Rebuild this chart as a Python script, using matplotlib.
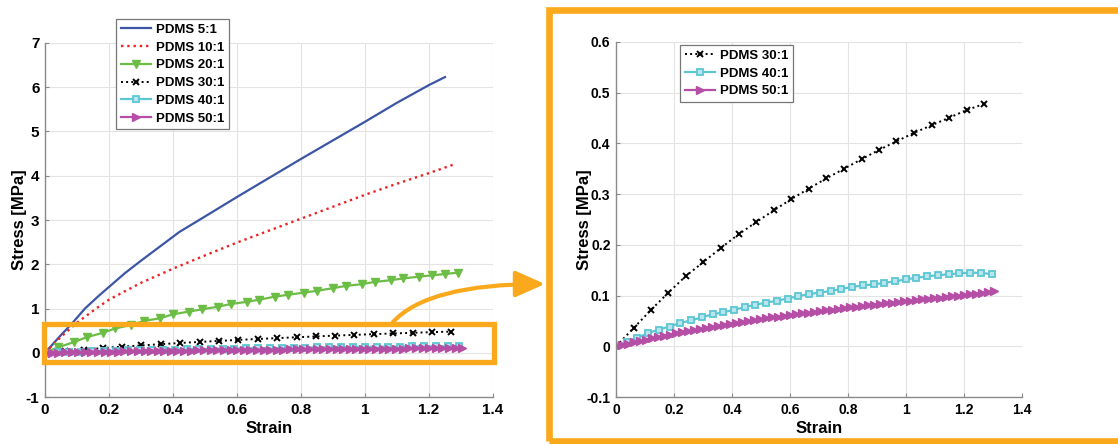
import matplotlib
matplotlib.use("Agg")
import matplotlib.pyplot as plt
from matplotlib.patches import Rectangle, FancyArrowPatch
from matplotlib.path import Path

plt.rcParams['font.family'] = ['Liberation Sans', 'DejaVu Sans']
plt.rcParams['font.weight'] = 'bold'
plt.rcParams['axes.unicode_minus'] = False

# ---- data ----
strain_5 = [0, 0.05, 0.083, 0.125, 0.17, 0.25, 0.30, 0.42, 0.50, 0.60, 0.70, 0.80, 0.90, 1.00, 1.10, 1.20, 1.25]
stress_5 = [0, 0.40, 0.65, 1.00, 1.30, 1.80, 2.08, 2.73, 3.08, 3.52, 3.95, 4.38, 4.80, 5.22, 5.65, 6.05, 6.23]

strain_10 = [0, 0.05, 0.10, 0.16, 0.20, 0.30, 0.40, 0.50, 0.60, 0.70, 0.80, 0.90, 1.00, 1.10, 1.20, 1.28]
stress_10 = [0, 0.36, 0.68, 1.00, 1.20, 1.58, 1.90, 2.20, 2.49, 2.76, 3.03, 3.30, 3.57, 3.82, 4.06, 4.26]

strain_20 = [0, 0.04, 0.09, 0.13, 0.18, 0.22, 0.27, 0.31, 0.36, 0.40, 0.45, 0.49, 0.54, 0.58, 0.63,
             0.67, 0.72, 0.76, 0.81, 0.85, 0.90, 0.94, 0.99, 1.03, 1.08, 1.12, 1.17, 1.21, 1.25, 1.29]
stress_20 = [0, 0.12, 0.24, 0.35, 0.45, 0.55, 0.63, 0.72, 0.78, 0.87, 0.93, 0.98, 1.04, 1.10, 1.15,
             1.20, 1.27, 1.31, 1.36, 1.40, 1.46, 1.51, 1.55, 1.60, 1.64, 1.68, 1.72, 1.75, 1.78, 1.81]

strain_30 = [0, 0.061, 0.121, 0.181, 0.240, 0.301, 0.362, 0.423, 0.484, 0.544, 0.604,
             0.665, 0.725, 0.786, 0.847, 0.906, 0.967, 1.028, 1.089, 1.150, 1.210, 1.270]
stress_30 = [0, 0.036, 0.072, 0.106, 0.138, 0.166, 0.194, 0.221, 0.245, 0.268, 0.290,
             0.311, 0.331, 0.350, 0.369, 0.387, 0.404, 0.421, 0.436, 0.451, 0.466, 0.478]

strain_40 = [0, 0.037, 0.074, 0.111, 0.148, 0.185, 0.222, 0.259, 0.296, 0.333, 0.370, 0.407,
             0.444, 0.481, 0.518, 0.555, 0.592, 0.629, 0.666, 0.703, 0.740, 0.777, 0.814, 0.851,
             0.888, 0.925, 0.962, 0.999, 1.036, 1.073, 1.110, 1.147, 1.184, 1.221, 1.258, 1.295]
stress_40 = [0, 0.009, 0.017, 0.026, 0.033, 0.039, 0.046, 0.051, 0.057, 0.063, 0.067, 0.072,
             0.077, 0.082, 0.086, 0.090, 0.094, 0.099, 0.103, 0.106, 0.109, 0.113, 0.117, 0.120,
             0.122, 0.125, 0.128, 0.132, 0.135, 0.138, 0.140, 0.142, 0.144, 0.145, 0.145, 0.142]

strain_50 = [0, 0.021, 0.041, 0.062, 0.083, 0.104, 0.124, 0.145, 0.166, 0.186, 0.207, 0.228,
             0.248, 0.269, 0.290, 0.311, 0.331, 0.352, 0.373, 0.393, 0.414, 0.435, 0.455, 0.476,
             0.497, 0.518, 0.538, 0.559, 0.580, 0.600, 0.621, 0.642, 0.662, 0.683, 0.704, 0.725,
             0.745, 0.766, 0.787, 0.807, 0.828, 0.849, 0.869, 0.890, 0.911, 0.932, 0.952, 0.973,
             0.994, 1.014, 1.035, 1.056, 1.076, 1.097, 1.118, 1.139, 1.159, 1.180, 1.201, 1.221,
             1.242, 1.263, 1.283, 1.304]
stress_50 = [0, 0.003, 0.005, 0.008, 0.011, 0.013, 0.016, 0.018, 0.021, 0.023, 0.026, 0.028,
             0.030, 0.032, 0.034, 0.036, 0.038, 0.040, 0.042, 0.044, 0.046, 0.048, 0.050, 0.051,
             0.053, 0.055, 0.057, 0.058, 0.060, 0.062, 0.063, 0.065, 0.066, 0.068, 0.069, 0.071,
             0.072, 0.074, 0.075, 0.077, 0.078, 0.079, 0.081, 0.082, 0.083, 0.085, 0.086, 0.087,
             0.089, 0.090, 0.091, 0.093, 0.094, 0.095, 0.096, 0.098, 0.099, 0.100, 0.101, 0.103,
             0.104, 0.105, 0.107, 0.109]

xticks = [0, 0.2, 0.4, 0.6, 0.8, 1, 1.2, 1.4]
xtick_labels = ['0', '0.2', '0.4', '0.6', '0.8', '1', '1.2', '1.4']
yticks_left = [-1, 0, 1, 2, 3, 4, 5, 6, 7]
yticks_right = [-0.1, 0, 0.1, 0.2, 0.3, 0.4, 0.5, 0.6]
ytick_labels_right = ['-0.1', '0', '0.1', '0.2', '0.3', '0.4', '0.5', '0.6']

orange = '#f9a91b'
c_blue = '#3c55a5'
c_red = '#ee2224'
c_green = '#6cbd45'
c_cyan = '#5cc6d3'
c_mag = '#b54fa6'


def plot_30(ax):
    ax.plot(strain_30, stress_30, ':', color='black', lw=1.4, marker='x',
            ms=4, mew=1.4, label='PDMS 30:1')


def plot_40(ax):
    ax.plot(strain_40, stress_40, '-', color=c_cyan, lw=1.6, marker='s', ms=5,
            mfc='#b8e6ec', mec=c_cyan, mew=1.3, label='PDMS 40:1')


def plot_50(ax):
    ax.plot(strain_50, stress_50, '-', color=c_mag, lw=1.6, marker='>', ms=5.5,
            mfc=c_mag, mec=c_mag, label='PDMS 50:1')


def style(ax, yt, fs, ypad):
    ax.set_xlim(0, 1.4)
    ax.set_xticks(xticks)
    ax.set_xticklabels(xtick_labels)
    ax.set_yticks(yt)
    ax.grid(True, color='#e3e3e3', lw=0.8)
    ax.set_axisbelow(True)
    for s in ['top', 'right']:
        ax.spines[s].set_visible(False)
    for s in ['left', 'bottom']:
        ax.spines[s].set_color('#8a8a8a')
        ax.spines[s].set_linewidth(1.0)
    ax.tick_params(direction='in', length=3, color='#8a8a8a', labelsize=fs,
                   pad=4)
    ax.set_xlabel('Strain', fontsize=12, fontweight='bold', labelpad=3)
    ax.set_ylabel('Stress [MPa]', fontsize=12, fontweight='bold', labelpad=ypad)


def legend(ax, x0, y0):
    leg = ax.legend(loc='upper left', bbox_to_anchor=(x0 / 1118, 1 - y0 / 444),
                    bbox_transform=fig.transFigure, fontsize=9.5, handlelength=2.3,
                    numpoints=1, fancybox=False, framealpha=1, borderpad=0.35,
                    labelspacing=0.42, handletextpad=0.4, borderaxespad=0)
    leg.get_frame().set_edgecolor('#777777')
    leg.get_frame().set_linewidth(0.9)
    for t in leg.get_texts():
        t.set_fontweight('bold')


fig = plt.figure(figsize=(11.18, 4.44), dpi=100)

# ---- left plot ----
ax1 = fig.add_axes([45 / 1118, 1 - 397 / 444, 448 / 1118, 354 / 444])
ax1.plot(strain_5, stress_5, '-', color=c_blue, lw=1.6, label='PDMS 5:1')
ax1.plot(strain_10, stress_10, ':', color=c_red, lw=1.7, label='PDMS 10:1')
ax1.plot(strain_20, stress_20, '-', color=c_green, lw=1.6, marker='v', ms=6,
         mfc=c_green, mec=c_green, label='PDMS 20:1')
plot_30(ax1)
plot_40(ax1)
plot_50(ax1)
ax1.set_ylim(-1, 7)
style(ax1, yticks_left, 11, -1)
legend(ax1, 116, 19)

# orange zoom box on the left plot
ax1.add_patch(Rectangle((-0.003, -0.2), 1.406, 0.85, fill=False, ec=orange,
                        lw=3.8, clip_on=False, zorder=5))

# ---- right plot ----
ax2 = fig.add_axes([616 / 1118, 1 - 397 / 444, 406 / 1118, 355 / 444])
plot_30(ax2)
plot_40(ax2)
plot_50(ax2)
ax2.set_ylim(-0.1, 0.6)
style(ax2, yticks_right, 10, -4)
ax2.set_yticklabels(ytick_labels_right)
legend(ax2, 680, 45)

# big orange frame round the right plot
fig.patches.append(Rectangle((548.5 / 1118, 1 - 441 / 444), 600 / 1118, 431 / 444,
                             fill=False, ec=orange, lw=4.8,
                             transform=fig.transFigure, figure=fig))


# curved arrow from the small box to the frame
def fpt(px, py):
    return (px / 1118, 1 - py / 444)


arrow_path = Path([fpt(393, 322), fpt(428, 284), fpt(545, 284)],
                  [Path.MOVETO, Path.CURVE3, Path.CURVE3])
arr = FancyArrowPatch(path=arrow_path, arrowstyle='-|>,head_length=18,head_width=8',
                      mutation_scale=1, color=orange, lw=3.0,
                      transform=fig.transFigure)
fig.patches.append(arr)

fig.savefig('out.png', dpi=100)
